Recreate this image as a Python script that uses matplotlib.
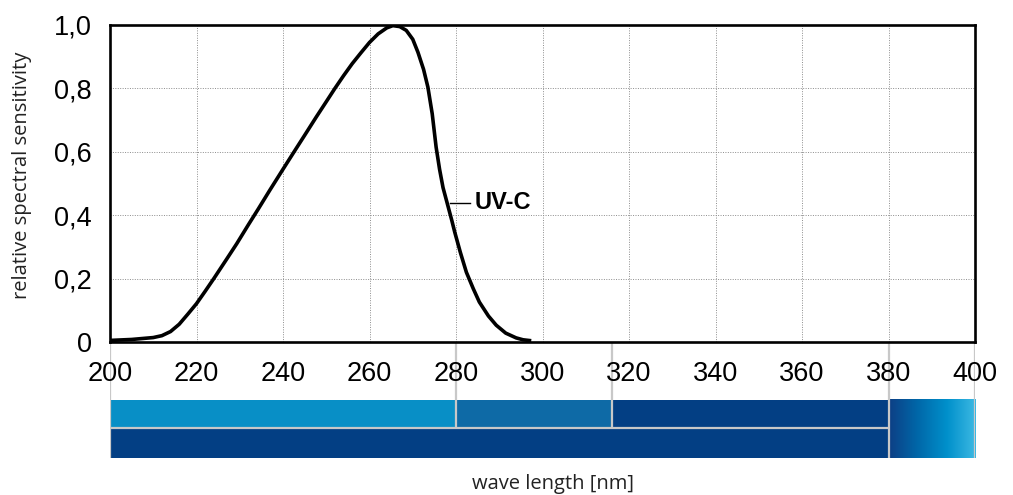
import numpy as np
import matplotlib
matplotlib.use("Agg")
import matplotlib.pyplot as plt
from matplotlib.colors import LinearSegmentedColormap

# spectral sensitivity curve
wavelength = [200, 205, 210, 212, 214, 216, 218, 220, 222, 224, 227, 229.3, 232,
              234.3, 237, 240, 242.7, 245, 247.7, 250, 252, 254, 256, 258, 260,
              262, 264, 265.4, 267, 268.5, 270, 271.2, 272.5, 273.5, 274.5,
              275.4, 276.2, 277, 278.1, 279, 279.7, 281, 282.4, 284, 285.4,
              287.5, 289.3, 291.5, 293.9, 295.5, 297.4]
sensitivity = [0.005, 0.008, 0.014, 0.02, 0.033, 0.056, 0.088, 0.121, 0.16, 0.2,
               0.262, 0.31, 0.37, 0.42, 0.48, 0.545, 0.603, 0.652, 0.71, 0.758,
               0.80, 0.84, 0.878, 0.912, 0.945, 0.972, 0.991, 0.998, 0.995,
               0.983, 0.955, 0.914, 0.86, 0.804, 0.72, 0.615, 0.545, 0.487,
               0.431, 0.385, 0.347, 0.283, 0.22, 0.168, 0.126, 0.082, 0.053,
               0.028, 0.013, 0.007, 0.004]

x_ticks = [200, 220, 240, 260, 280, 300, 320, 340, 360, 380, 400]
y_ticks = [0, 0.2, 0.4, 0.6, 0.8, 1.0]
y_tick_labels = ["0", "0,2", "0,4", "0,6", "0,8", "1,0"]

# band bar below the chart
top_starts = [200, 280, 316]
top_ends = [280, 316, 380]
top_colors = ["#088FC6", "#0E6AA6", "#033F84"]
bottom_start, bottom_end = 200, 380
bottom_color = "#033F84"
grad_start, grad_end = 380, 400
grad_colors = ["#0D3F85", "#0068A9", "#0090CB", "#3DB9E3"]
full_edges = [200, 380, 400]   # grey lines through both rows
top_edges = [280, 316]         # grey lines through the top row only

W, H = 1013, 495
fig = plt.figure(figsize=(W / 100, H / 100), dpi=100)

def fr(x0, y0, x1, y1):
    return [x0 / W, 1 - y1 / H, (x1 - x0) / W, (y1 - y0) / H]

# band axes (pixel-like vertical coordinates), behind main axes
axb = fig.add_axes(fr(110, 342, 975, 458))
grey = "#C8C8C8"
for s, e, c in zip(top_starts, top_ends, top_colors):
    axb.fill_between([s, e], 400, 426.5, color=c, lw=0)
axb.fill_between([bottom_start, bottom_end], 428.5, 458, color=bottom_color, lw=0)
axb.hlines(427.5, bottom_start, bottom_end, color=grey, lw=1.6)
cmap = LinearSegmentedColormap.from_list("uv", grad_colors)
axb.imshow(np.linspace(0, 1, 256).reshape(1, -1), cmap=cmap, aspect="auto",
           extent=[grad_start, grad_end, 458, 399], zorder=1)
for e in full_edges:
    axb.vlines(e, 342, 458, color=grey, lw=1.6, zorder=3)
for e in top_edges:
    axb.vlines(e, 342, 427.5, color=grey, lw=1.6, zorder=3)
axb.set_xlim(200, 400)
axb.set_ylim(458, 342)
axb.axis("off")

# main chart
ax = fig.add_axes(fr(110, 25, 975, 342))
ax.patch.set_alpha(0)
ax.plot(wavelength, sensitivity, color="black", lw=2.6, solid_capstyle="butt",
        solid_joinstyle="round")
ax.set_xlim(200, 400)
ax.set_ylim(0, 1.0)
ax.set_xticks(x_ticks)
ax.set_yticks(y_ticks)
ax.set_yticklabels(y_tick_labels)
ax.tick_params(length=0, labelsize=19.5, pad=13)
ax.tick_params(axis="x", pad=14)
for lab in ax.get_xticklabels() + ax.get_yticklabels():
    lab.set_fontfamily("Liberation Sans")
ax.grid(True, color="#8C8C8C", ls=(0, (1, 1.5)), lw=0.7)
for sp in ax.spines.values():
    sp.set_linewidth(1.9)

# UV-C annotation
ax.plot([278.5, 283.3], [0.44, 0.44], color="black", lw=1.0)
ax.text(284.3, 0.44, "UV-C", fontsize=17, fontweight="bold",
        family="Liberation Sans", va="center", ha="left")

fig.text(22 / W, 1 - 175 / H, "relative spectral sensitivity", rotation=90,
         ha="center", va="center", fontsize=14.5, family="Open Sans",
         color="#222222")
fig.text(553 / W, 1 - 484 / H, "wave length [nm]", ha="center", va="center",
         fontsize=14.5, family="Open Sans", color="#222222")

fig.savefig("out.png", dpi=100)
